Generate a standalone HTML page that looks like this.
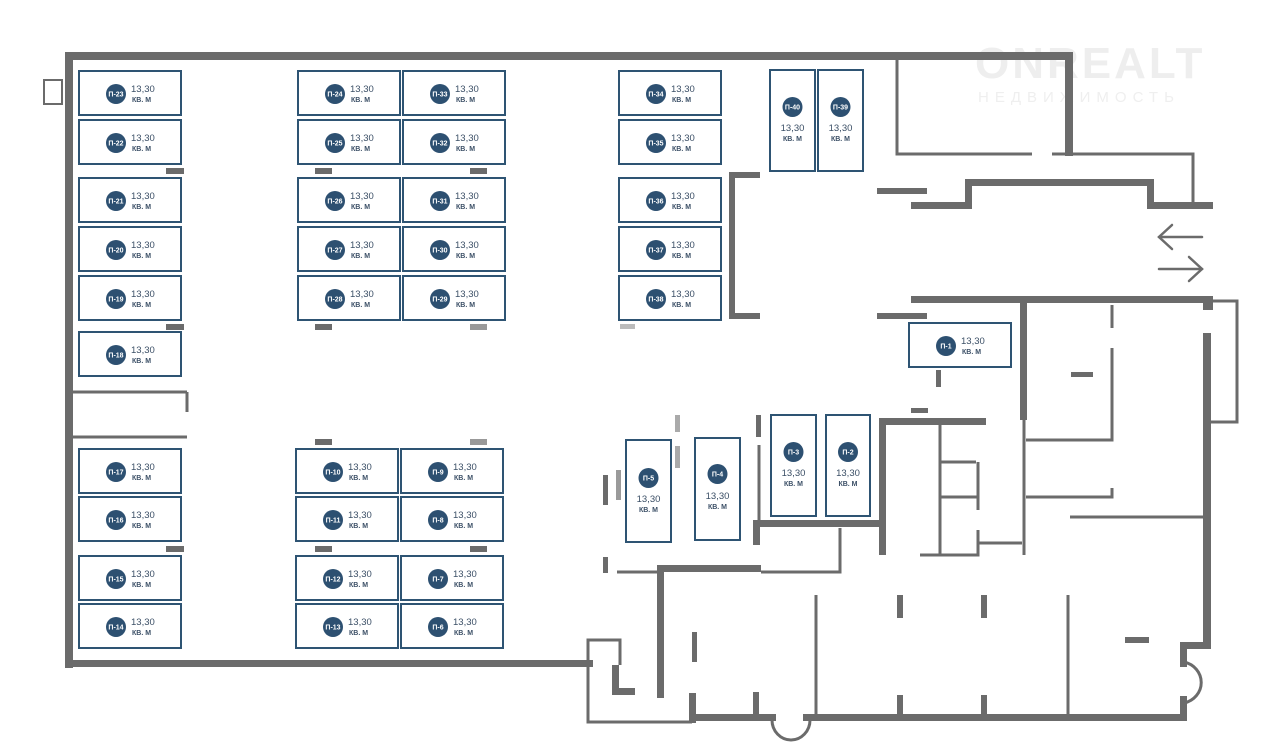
<!DOCTYPE html>
<html><head><meta charset="utf-8"><style>
html,body{margin:0;padding:0;background:#fff;}
svg{display:block;font-family:"Liberation Sans","DejaVu Sans",sans-serif;}
.b{fill:#fff;stroke:#2e5473;stroke-width:2}
.c{fill:#2d5071}
.l{fill:#fff;font-size:7px;text-anchor:middle;font-weight:bold}
.n{fill:#3b4f66;font-size:9.5px}
.k{fill:#3b4f66;font-size:7px;font-weight:bold}
.w{fill:#6b6b6b}
.t{stroke:#6b6b6b;stroke-width:3;fill:none}
</style></head><body>
<svg width="1280" height="750" viewBox="0 0 1280 750" xmlns="http://www.w3.org/2000/svg">
<!-- watermark -->
<text x="975" y="78" font-size="44" font-weight="bold" fill="#eeeeee" letter-spacing="3">ONREALT</text>
<text x="978" y="102" font-size="15" fill="#efefef" letter-spacing="6">НЕДВИЖИМОСТЬ</text>
<!-- outer walls -->
<g class="w">
<rect x="65" y="52" width="1008" height="8"/>
<rect x="65" y="52" width="8" height="616"/>
<rect x="65" y="660" width="528" height="7"/>
<rect x="1065" y="52" width="8" height="104"/>
<rect x="911" y="202" width="61" height="7"/>
<rect x="965" y="179" width="7" height="30"/>
<rect x="965" y="179" width="189" height="7"/>
<rect x="1147" y="179" width="7" height="30"/>
<rect x="1147" y="202" width="66" height="7"/>
<rect x="877" y="188" width="50" height="6"/>
<rect x="729" y="172" width="6" height="147"/>
<rect x="729" y="172" width="31" height="6"/>
<rect x="729" y="313" width="31" height="6"/>
<rect x="877" y="313" width="50" height="6"/>
<rect x="911" y="296" width="302" height="7"/>
<rect x="1203" y="296" width="10" height="14"/>
<rect x="1203" y="333" width="8" height="312"/>
<rect x="1020" y="303" width="7" height="117"/>
<rect x="1071" y="372" width="22" height="5"/>
<rect x="936" y="370" width="5" height="17"/>
<rect x="911" y="408" width="17" height="5"/>
<rect x="879" y="418" width="7" height="137"/>
<rect x="879" y="418" width="107" height="7"/>
<rect x="753" y="520" width="132" height="7"/>
<rect x="753" y="520" width="7" height="25"/>
<rect x="756" y="415" width="5" height="22"/>
<rect x="657" y="565" width="104" height="7"/>
<rect x="657" y="565" width="7" height="133"/>
<rect x="603" y="475" width="5" height="30"/>
<rect x="616" y="470" width="5" height="30" fill="#9a9a9a"/>
<rect x="603" y="557" width="5" height="16"/>
<rect x="675" y="415" width="5" height="17" fill="#aaa"/>
<rect x="675" y="446" width="5" height="22" fill="#aaa"/>
<rect x="612" y="665" width="7" height="30"/>
<rect x="612" y="688" width="23" height="7"/>
<rect x="689" y="693" width="7" height="30"/>
<rect x="689" y="714" width="87" height="7"/>
<rect x="753" y="692" width="6" height="26"/>
<rect x="803" y="714" width="383" height="7"/>
<rect x="1180" y="642" width="31" height="7"/>
<rect x="1180" y="642" width="7" height="25"/>
<rect x="1180" y="696" width="7" height="25"/>
<rect x="897" y="595" width="6" height="23"/>
<rect x="981" y="595" width="6" height="23"/>
<rect x="897" y="695" width="6" height="22"/>
<rect x="981" y="695" width="6" height="22"/>
<rect x="692" y="632" width="5" height="30"/>
<rect x="1125" y="637" width="24" height="6"/>
<rect x="44" y="80" width="18" height="24" fill="none" stroke="#6b6b6b" stroke-width="2"/>
</g>
<g class="t">
<polyline points="897,60 897,154 1032,154"/>
<polyline points="1052,154 1193,154 1193,203"/>
<polyline points="1213,301 1237,301 1237,422 1211,422"/>
<polyline points="1112,305 1112,328"/>
<polyline points="1112,348 1112,440 1026,440"/>
<polyline points="1026,497 1112,497 1112,488"/>
<line x1="1070" y1="517" x2="1207" y2="517"/>
<line x1="1024" y1="420" x2="1024" y2="555"/>
<line x1="940" y1="425" x2="940" y2="555"/>
<line x1="940" y1="462" x2="976" y2="462"/>
<polyline points="978,462 978,510"/>
<line x1="940" y1="497" x2="978" y2="497"/>
<polyline points="978,530 978,555 920,555"/>
<line x1="978" y1="543" x2="1022" y2="543"/>
<polyline points="617,572 657,572"/>
<polyline points="761,572 840,572 840,528"/>
<line x1="759" y1="445" x2="759" y2="520"/>
<polyline points="620,665 620,640 588,640 588,722 692,722"/>
<line x1="816" y1="595" x2="816" y2="716"/>
<line x1="1068" y1="595" x2="1068" y2="716"/>
<path d="M1184,662 A22,21 0 0 1 1184,703"/>
<path d="M772,720 A19,20 0 0 0 810,720"/>
<line x1="72" y1="392" x2="187" y2="392"/>
<line x1="187" y1="392" x2="187" y2="412"/>
<line x1="72" y1="437" x2="187" y2="437"/>
</g>
<!-- arrows -->
<g stroke="#6b6b6b" stroke-width="2.5" fill="none" stroke-linecap="round">
<line x1="1159" y1="237" x2="1202" y2="237"/><polyline points="1172,225 1159,237 1172,249"/>
<line x1="1159" y1="269" x2="1202" y2="269"/><polyline points="1189,257 1202,269 1189,281"/>
</g>
<!-- small bars near parking -->
<g class="w">
<rect x="166" y="168" width="18" height="6"/><rect x="166" y="324" width="18" height="6"/><rect x="166" y="546" width="18" height="6"/>
<rect x="315" y="168" width="17" height="6"/><rect x="470" y="168" width="17" height="6"/>
<rect x="315" y="324" width="17" height="6"/><rect x="470" y="324" width="17" height="6" fill="#999"/>
<rect x="315" y="439" width="17" height="6"/><rect x="470" y="439" width="17" height="6" fill="#999"/>
<rect x="315" y="546" width="17" height="6"/><rect x="470" y="546" width="17" height="6"/>
<rect x="620" y="324" width="15" height="5" fill="#bbb"/>
</g>
<!-- horizontal boxes -->
<g id="H">
<g transform="translate(79,71)"><rect class="b" width="102" height="44"/><circle class="c" cx="37" cy="23" r="10"/><text class="l" x="37" y="25.5">П-23</text><text class="n" x="52" y="21">13,30</text><text class="k" x="53" y="31">КВ. М</text></g>
<g transform="translate(79,120)"><rect class="b" width="102" height="44"/><circle class="c" cx="37" cy="23" r="10"/><text class="l" x="37" y="25.5">П-22</text><text class="n" x="52" y="21">13,30</text><text class="k" x="53" y="31">КВ. М</text></g>
<g transform="translate(79,178)"><rect class="b" width="102" height="44"/><circle class="c" cx="37" cy="23" r="10"/><text class="l" x="37" y="25.5">П-21</text><text class="n" x="52" y="21">13,30</text><text class="k" x="53" y="31">КВ. М</text></g>
<g transform="translate(79,227)"><rect class="b" width="102" height="44"/><circle class="c" cx="37" cy="23" r="10"/><text class="l" x="37" y="25.5">П-20</text><text class="n" x="52" y="21">13,30</text><text class="k" x="53" y="31">КВ. М</text></g>
<g transform="translate(79,276)"><rect class="b" width="102" height="44"/><circle class="c" cx="37" cy="23" r="10"/><text class="l" x="37" y="25.5">П-19</text><text class="n" x="52" y="21">13,30</text><text class="k" x="53" y="31">КВ. М</text></g>
<g transform="translate(79,332)"><rect class="b" width="102" height="44"/><circle class="c" cx="37" cy="23" r="10"/><text class="l" x="37" y="25.5">П-18</text><text class="n" x="52" y="21">13,30</text><text class="k" x="53" y="31">КВ. М</text></g>
<g transform="translate(79,449)"><rect class="b" width="102" height="44"/><circle class="c" cx="37" cy="23" r="10"/><text class="l" x="37" y="25.5">П-17</text><text class="n" x="52" y="21">13,30</text><text class="k" x="53" y="31">КВ. М</text></g>
<g transform="translate(79,497)"><rect class="b" width="102" height="44"/><circle class="c" cx="37" cy="23" r="10"/><text class="l" x="37" y="25.5">П-16</text><text class="n" x="52" y="21">13,30</text><text class="k" x="53" y="31">КВ. М</text></g>
<g transform="translate(79,556)"><rect class="b" width="102" height="44"/><circle class="c" cx="37" cy="23" r="10"/><text class="l" x="37" y="25.5">П-15</text><text class="n" x="52" y="21">13,30</text><text class="k" x="53" y="31">КВ. М</text></g>
<g transform="translate(79,604)"><rect class="b" width="102" height="44"/><circle class="c" cx="37" cy="23" r="10"/><text class="l" x="37" y="25.5">П-14</text><text class="n" x="52" y="21">13,30</text><text class="k" x="53" y="31">КВ. М</text></g>

<g transform="translate(298,71)"><rect class="b" width="102" height="44"/><circle class="c" cx="37" cy="23" r="10"/><text class="l" x="37" y="25.5">П-24</text><text class="n" x="52" y="21">13,30</text><text class="k" x="53" y="31">КВ. М</text></g>
<g transform="translate(298,120)"><rect class="b" width="102" height="44"/><circle class="c" cx="37" cy="23" r="10"/><text class="l" x="37" y="25.5">П-25</text><text class="n" x="52" y="21">13,30</text><text class="k" x="53" y="31">КВ. М</text></g>
<g transform="translate(298,178)"><rect class="b" width="102" height="44"/><circle class="c" cx="37" cy="23" r="10"/><text class="l" x="37" y="25.5">П-26</text><text class="n" x="52" y="21">13,30</text><text class="k" x="53" y="31">КВ. М</text></g>
<g transform="translate(298,227)"><rect class="b" width="102" height="44"/><circle class="c" cx="37" cy="23" r="10"/><text class="l" x="37" y="25.5">П-27</text><text class="n" x="52" y="21">13,30</text><text class="k" x="53" y="31">КВ. М</text></g>
<g transform="translate(298,276)"><rect class="b" width="102" height="44"/><circle class="c" cx="37" cy="23" r="10"/><text class="l" x="37" y="25.5">П-28</text><text class="n" x="52" y="21">13,30</text><text class="k" x="53" y="31">КВ. М</text></g>
<g transform="translate(403,71)"><rect class="b" width="102" height="44"/><circle class="c" cx="37" cy="23" r="10"/><text class="l" x="37" y="25.5">П-33</text><text class="n" x="52" y="21">13,30</text><text class="k" x="53" y="31">КВ. М</text></g>
<g transform="translate(403,120)"><rect class="b" width="102" height="44"/><circle class="c" cx="37" cy="23" r="10"/><text class="l" x="37" y="25.5">П-32</text><text class="n" x="52" y="21">13,30</text><text class="k" x="53" y="31">КВ. М</text></g>
<g transform="translate(403,178)"><rect class="b" width="102" height="44"/><circle class="c" cx="37" cy="23" r="10"/><text class="l" x="37" y="25.5">П-31</text><text class="n" x="52" y="21">13,30</text><text class="k" x="53" y="31">КВ. М</text></g>
<g transform="translate(403,227)"><rect class="b" width="102" height="44"/><circle class="c" cx="37" cy="23" r="10"/><text class="l" x="37" y="25.5">П-30</text><text class="n" x="52" y="21">13,30</text><text class="k" x="53" y="31">КВ. М</text></g>
<g transform="translate(403,276)"><rect class="b" width="102" height="44"/><circle class="c" cx="37" cy="23" r="10"/><text class="l" x="37" y="25.5">П-29</text><text class="n" x="52" y="21">13,30</text><text class="k" x="53" y="31">КВ. М</text></g>

<g transform="translate(296,449)"><rect class="b" width="102" height="44"/><circle class="c" cx="37" cy="23" r="10"/><text class="l" x="37" y="25.5">П-10</text><text class="n" x="52" y="21">13,30</text><text class="k" x="53" y="31">КВ. М</text></g>
<g transform="translate(296,497)"><rect class="b" width="102" height="44"/><circle class="c" cx="37" cy="23" r="10"/><text class="l" x="37" y="25.5">П-11</text><text class="n" x="52" y="21">13,30</text><text class="k" x="53" y="31">КВ. М</text></g>
<g transform="translate(296,556)"><rect class="b" width="102" height="44"/><circle class="c" cx="37" cy="23" r="10"/><text class="l" x="37" y="25.5">П-12</text><text class="n" x="52" y="21">13,30</text><text class="k" x="53" y="31">КВ. М</text></g>
<g transform="translate(296,604)"><rect class="b" width="102" height="44"/><circle class="c" cx="37" cy="23" r="10"/><text class="l" x="37" y="25.5">П-13</text><text class="n" x="52" y="21">13,30</text><text class="k" x="53" y="31">КВ. М</text></g>
<g transform="translate(401,449)"><rect class="b" width="102" height="44"/><circle class="c" cx="37" cy="23" r="10"/><text class="l" x="37" y="25.5">П-9</text><text class="n" x="52" y="21">13,30</text><text class="k" x="53" y="31">КВ. М</text></g>
<g transform="translate(401,497)"><rect class="b" width="102" height="44"/><circle class="c" cx="37" cy="23" r="10"/><text class="l" x="37" y="25.5">П-8</text><text class="n" x="52" y="21">13,30</text><text class="k" x="53" y="31">КВ. М</text></g>
<g transform="translate(401,556)"><rect class="b" width="102" height="44"/><circle class="c" cx="37" cy="23" r="10"/><text class="l" x="37" y="25.5">П-7</text><text class="n" x="52" y="21">13,30</text><text class="k" x="53" y="31">КВ. М</text></g>
<g transform="translate(401,604)"><rect class="b" width="102" height="44"/><circle class="c" cx="37" cy="23" r="10"/><text class="l" x="37" y="25.5">П-6</text><text class="n" x="52" y="21">13,30</text><text class="k" x="53" y="31">КВ. М</text></g>

<g transform="translate(619,71)"><rect class="b" width="102" height="44"/><circle class="c" cx="37" cy="23" r="10"/><text class="l" x="37" y="25.5">П-34</text><text class="n" x="52" y="21">13,30</text><text class="k" x="53" y="31">КВ. М</text></g>
<g transform="translate(619,120)"><rect class="b" width="102" height="44"/><circle class="c" cx="37" cy="23" r="10"/><text class="l" x="37" y="25.5">П-35</text><text class="n" x="52" y="21">13,30</text><text class="k" x="53" y="31">КВ. М</text></g>
<g transform="translate(619,178)"><rect class="b" width="102" height="44"/><circle class="c" cx="37" cy="23" r="10"/><text class="l" x="37" y="25.5">П-36</text><text class="n" x="52" y="21">13,30</text><text class="k" x="53" y="31">КВ. М</text></g>
<g transform="translate(619,227)"><rect class="b" width="102" height="44"/><circle class="c" cx="37" cy="23" r="10"/><text class="l" x="37" y="25.5">П-37</text><text class="n" x="52" y="21">13,30</text><text class="k" x="53" y="31">КВ. М</text></g>
<g transform="translate(619,276)"><rect class="b" width="102" height="44"/><circle class="c" cx="37" cy="23" r="10"/><text class="l" x="37" y="25.5">П-38</text><text class="n" x="52" y="21">13,30</text><text class="k" x="53" y="31">КВ. М</text></g>
<g transform="translate(909,323)"><rect class="b" width="102" height="44"/><circle class="c" cx="37" cy="23" r="10"/><text class="l" x="37" y="25.5">П-1</text><text class="n" x="52" y="21">13,30</text><text class="k" x="53" y="31">КВ. М</text></g>
</g>
<!-- vertical boxes -->
<g transform="translate(770,70)"><rect class="b" width="45" height="101"/><circle class="c" cx="22.5" cy="37" r="10"/><text class="l" x="22.5" y="39.5">П-40</text><text class="n" x="22.5" y="61" text-anchor="middle">13,30</text><text class="k" x="22.5" y="71" text-anchor="middle">КВ. М</text></g>
<g transform="translate(818,70)"><rect class="b" width="45" height="101"/><circle class="c" cx="22.5" cy="37" r="10"/><text class="l" x="22.5" y="39.5">П-39</text><text class="n" x="22.5" y="61" text-anchor="middle">13,30</text><text class="k" x="22.5" y="71" text-anchor="middle">КВ. М</text></g>
<g transform="translate(626,440)"><rect class="b" width="45" height="102"/><circle class="c" cx="22.5" cy="38" r="10"/><text class="l" x="22.5" y="40.5">П-5</text><text class="n" x="22.5" y="62" text-anchor="middle">13,30</text><text class="k" x="22.5" y="72" text-anchor="middle">КВ. М</text></g>
<g transform="translate(695,438)"><rect class="b" width="45" height="102"/><circle class="c" cx="22.5" cy="36" r="10"/><text class="l" x="22.5" y="38.5">П-4</text><text class="n" x="22.5" y="61" text-anchor="middle">13,30</text><text class="k" x="22.5" y="71" text-anchor="middle">КВ. М</text></g>
<g transform="translate(771,415)"><rect class="b" width="45" height="101"/><circle class="c" cx="22.5" cy="37" r="10"/><text class="l" x="22.5" y="39.5">П-3</text><text class="n" x="22.5" y="61" text-anchor="middle">13,30</text><text class="k" x="22.5" y="71" text-anchor="middle">КВ. М</text></g>
<g transform="translate(826,415)"><rect class="b" width="44" height="101"/><circle class="c" cx="22" cy="37" r="10"/><text class="l" x="22" y="39.5">П-2</text><text class="n" x="22" y="61" text-anchor="middle">13,30</text><text class="k" x="22" y="71" text-anchor="middle">КВ. М</text></g>
</svg>
</body></html>
